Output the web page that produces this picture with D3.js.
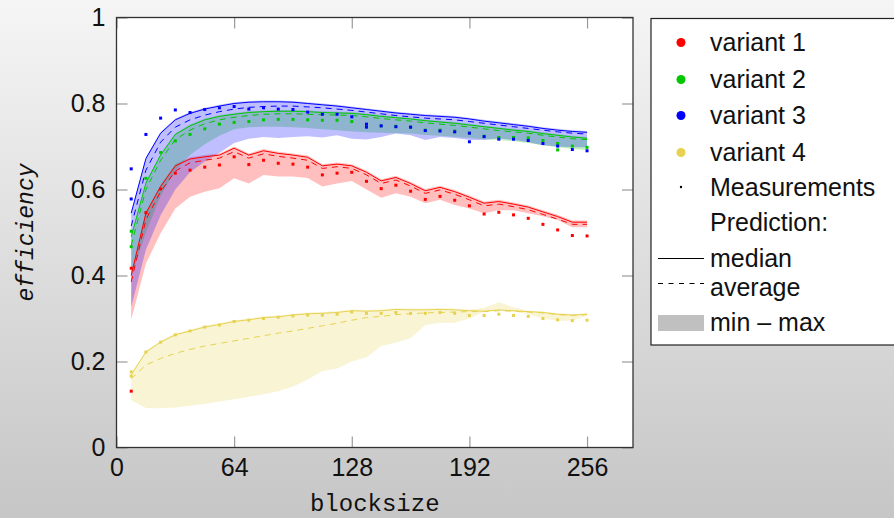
<!DOCTYPE html>
<html>
<head>
<meta charset="utf-8">
<script src="https://cdn.jsdelivr.net/npm/d3@7"></script>
<style>
  html, body { margin: 0; padding: 0; }
  body { width: 894px; height: 518px; overflow: hidden; }
  svg { display: block; font-family: "Liberation Sans", Arial, sans-serif; }
</style>
</head>
<body>
<svg id="chart"></svg>
<script>
// ---- data ------------------------------------------------------------
var blocksize = [8,16,24,32,40,48,56,64,72,80,88,96,104,112,120,128,
                 136,144,152,160,168,176,184,192,200,208,216,224,232,240,248,256];

var v1_median = [0.400,0.545,0.607,0.655,0.671,0.676,0.680,0.696,0.680,0.690,0.684,0.680,0.675,0.655,0.659,0.655,
                 0.640,0.620,0.628,0.614,0.597,0.605,0.595,0.582,0.568,0.572,0.566,0.559,0.548,0.537,0.524,0.524];
var v1_average = [0.385,0.530,0.595,0.643,0.662,0.668,0.673,0.688,0.673,0.683,0.677,0.673,0.668,0.649,0.653,0.649,
                  0.634,0.614,0.622,0.608,0.591,0.599,0.589,0.576,0.562,0.566,0.560,0.553,0.542,0.531,0.519,0.519];
var v1_min = [0.297,0.428,0.498,0.556,0.583,0.595,0.603,0.626,0.614,0.634,0.630,0.630,0.627,0.607,0.614,0.620,
              0.600,0.581,0.591,0.583,0.568,0.576,0.564,0.556,0.545,0.552,0.552,0.545,0.538,0.529,0.512,0.512];
var v1_max = [0.404,0.549,0.611,0.659,0.675,0.680,0.684,0.700,0.684,0.694,0.688,0.684,0.679,0.659,0.663,0.659,
              0.644,0.624,0.632,0.618,0.601,0.609,0.599,0.586,0.572,0.576,0.570,0.563,0.552,0.541,0.528,0.528];
var v1_meas = [0.417,0.546,0.601,0.638,0.645,0.652,0.657,0.676,0.658,0.668,0.661,0.659,0.652,0.634,0.638,0.640,
               0.619,0.602,0.610,0.596,0.577,0.584,0.575,0.562,0.543,0.547,0.541,0.533,0.519,0.506,0.493,0.492];

var v2_median = [0.490,0.615,0.680,0.728,0.748,0.762,0.770,0.775,0.779,0.781,0.782,0.782,0.781,0.779,0.778,0.777,
                 0.774,0.770,0.767,0.764,0.760,0.757,0.754,0.750,0.746,0.742,0.738,0.735,0.730,0.726,0.722,0.719];
var v2_average = [0.470,0.600,0.668,0.716,0.738,0.753,0.762,0.768,0.772,0.775,0.776,0.776,0.775,0.774,0.773,0.772,
                  0.769,0.765,0.762,0.759,0.755,0.752,0.749,0.745,0.741,0.737,0.734,0.731,0.726,0.722,0.718,0.716];
var v2_min = [0.397,0.500,0.585,0.645,0.680,0.705,0.725,0.740,0.745,0.746,0.746,0.745,0.743,0.740,0.738,0.735,
              0.733,0.732,0.731,0.730,0.727,0.725,0.722,0.720,0.717,0.715,0.712,0.708,0.703,0.698,0.694,0.692];
var v2_max = [0.493,0.618,0.683,0.731,0.751,0.765,0.773,0.778,0.782,0.784,0.785,0.785,0.784,0.782,0.781,0.780,
              0.777,0.773,0.770,0.767,0.763,0.760,0.757,0.753,0.749,0.745,0.741,0.738,0.733,0.729,0.725,0.722];
var v2_meas = [0.503,0.626,0.686,0.713,0.728,0.741,0.752,0.756,0.758,0.762,0.763,0.763,0.762,0.761,0.761,0.758,
               0.748,0.748,0.747,0.745,0.738,0.738,0.736,0.731,0.724,0.721,0.721,0.720,0.714,0.707,0.701,0.698];

var v3_median = [0.545,0.672,0.731,0.762,0.777,0.787,0.794,0.800,0.803,0.804,0.804,0.803,0.800,0.797,0.794,0.790,
                 0.786,0.782,0.778,0.775,0.772,0.770,0.768,0.764,0.759,0.755,0.751,0.747,0.742,0.738,0.735,0.733];
var v3_average = [0.515,0.645,0.710,0.745,0.762,0.773,0.781,0.787,0.791,0.793,0.794,0.794,0.792,0.790,0.787,0.784,
                  0.780,0.776,0.772,0.769,0.766,0.764,0.762,0.758,0.754,0.750,0.746,0.742,0.738,0.734,0.731,0.729];
var v3_min = [0.327,0.460,0.540,0.600,0.640,0.665,0.685,0.708,0.718,0.722,0.720,0.722,0.724,0.721,0.726,0.718,
              0.716,0.722,0.730,0.726,0.715,0.722,0.720,0.715,0.715,0.719,0.715,0.710,0.703,0.700,0.698,0.698];
var v3_max = [0.548,0.675,0.734,0.765,0.780,0.790,0.797,0.803,0.806,0.807,0.807,0.806,0.803,0.800,0.797,0.793,
              0.789,0.785,0.781,0.778,0.775,0.773,0.771,0.767,0.762,0.758,0.754,0.750,0.745,0.741,0.738,0.736];
var v3_meas = [0.648,0.728,0.766,0.785,0.779,0.786,0.790,0.793,0.787,0.790,0.787,0.786,0.780,0.775,0.775,0.769,
               0.752,0.748,0.746,0.745,0.737,0.736,0.734,0.731,0.723,0.717,0.717,0.714,0.707,0.701,0.693,0.690];

var v4_median = [0.169,0.222,0.245,0.262,0.271,0.280,0.286,0.293,0.297,0.302,0.304,0.308,0.311,0.312,0.314,0.318,
                 0.317,0.318,0.321,0.320,0.320,0.321,0.320,0.318,0.317,0.320,0.318,0.316,0.314,0.310,0.308,0.310];
var v4_average = [0.160,0.192,0.207,0.219,0.228,0.236,0.242,0.248,0.254,0.260,0.266,0.271,0.277,0.283,0.289,0.296,
                  0.302,0.305,0.309,0.311,0.313,0.314,0.315,0.316,0.316,0.318,0.317,0.315,0.313,0.309,0.307,0.309];
var v4_min = [0.110,0.092,0.091,0.093,0.097,0.101,0.107,0.112,0.118,0.124,0.131,0.142,0.158,0.178,0.184,0.200,
              0.210,0.236,0.244,0.254,0.285,0.290,0.290,0.300,0.316,0.318,0.316,0.310,0.300,0.295,0.295,0.307];
var v4_max = [0.172,0.225,0.248,0.265,0.274,0.283,0.289,0.296,0.300,0.305,0.307,0.311,0.314,0.315,0.317,0.321,
              0.320,0.321,0.324,0.323,0.323,0.324,0.323,0.321,0.325,0.338,0.326,0.318,0.316,0.312,0.310,0.312];
var v4_meas = [0.176,0.222,0.245,0.262,0.271,0.280,0.285,0.293,0.296,0.300,0.303,0.306,0.308,0.308,0.310,0.315,
               0.312,0.312,0.314,0.312,0.312,0.314,0.312,0.307,0.307,0.310,0.307,0.305,0.300,0.297,0.295,0.296];

// second measurements that stand apart from the main ones: [blocksize, efficiency]
var v1_extra = [[8,0.131]];
var v2_extra = [[8,0.467],[240,0.692]];
var v3_extra = [[8,0.578],[136,0.745],[192,0.711]];
var v4_extra = [[8,0.166]];

var names = ['variant 1','variant 2','variant 3','variant 4'];
var colors = ['#ff0000','#00c800','#0000ff','#e6d250'];

var xTicks = [0,64,128,192,256];
var yTicks = [0,0.2,0.4,0.6,0.8,1];

// ---- layout ----------------------------------------------------------
var W = 894, H = 518;
var plot = { left: 116.5, right: 633, top: 17.5, bottom: 447.5 };

var svg = d3.select('#chart').attr('width', W).attr('height', H);

var defs = svg.append('defs');
var grad = defs.append('linearGradient').attr('id', 'bg').attr('x1', 0).attr('y1', 0).attr('x2', 0).attr('y2', 1);
grad.append('stop').attr('offset', '0%').attr('stop-color', '#f5f5f5');
grad.append('stop').attr('offset', '100%').attr('stop-color', '#c6c6c6');
svg.append('rect').attr('width', W).attr('height', H).attr('fill', 'url(#bg)');

var x = d3.scaleLinear().domain([0, 281]).range([plot.left, plot.right]);
var y = d3.scaleLinear().domain([0, 1]).range([plot.bottom, plot.top]);

svg.append('rect')
    .attr('x', plot.left).attr('y', plot.top)
    .attr('width', plot.right - plot.left).attr('height', plot.bottom - plot.top)
    .attr('fill', '#fff');

defs.append('clipPath').attr('id', 'clip').append('rect')
    .attr('x', plot.left).attr('y', plot.top)
    .attr('width', plot.right - plot.left).attr('height', plot.bottom - plot.top);

var g = svg.append('g').attr('clip-path', 'url(#clip)');

var series = [
    { median: v1_median, average: v1_average, min: v1_min, max: v1_max, meas: v1_meas, extra: v1_extra },
    { median: v2_median, average: v2_average, min: v2_min, max: v2_max, meas: v2_meas, extra: v2_extra },
    { median: v3_median, average: v3_average, min: v3_min, max: v3_max, meas: v3_meas, extra: v3_extra },
    { median: v4_median, average: v4_average, min: v4_min, max: v4_max, meas: v4_meas, extra: v4_extra }
];

var area = d3.area()
    .x(function(d, i){ return x(blocksize[i]); })
    .y0(function(d){ return y(d[0]); })
    .y1(function(d){ return y(d[1]); });

var line = d3.line()
    .x(function(d, i){ return x(blocksize[i]); })
    .y(function(d){ return y(d); });

// bands (min - max)
series.forEach(function(s, k){
    var band = s.min.map(function(v, i){ return [v, s.max[i]]; });
    g.append('path').attr('d', area(band))
        .attr('fill', colors[k]).attr('fill-opacity', 0.25).attr('stroke', 'none');
});

// median and average
series.forEach(function(s, k){
    g.append('path').attr('d', line(s.median))
        .attr('fill', 'none').attr('stroke', colors[k]).attr('stroke-width', 1);
    g.append('path').attr('d', line(s.average))
        .attr('fill', 'none').attr('stroke', colors[k]).attr('stroke-width', 1)
        .attr('stroke-dasharray', '6,5');
});

// measurements
series.forEach(function(s, k){
    var pts = s.meas.map(function(v, i){ return [blocksize[i], v]; }).concat(s.extra);
    g.selectAll(null).data(pts).enter().append('rect')
        .attr('x', function(d){ return x(d[0]) - 1.5; })
        .attr('y', function(d){ return y(d[1]) - 1.5; })
        .attr('width', 3).attr('height', 3)
        .attr('fill', colors[k]);
});

// ---- axes ------------------------------------------------------------
function styleAxis(sel){
    sel.select('.domain').remove();
    sel.selectAll('.tick line').attr('stroke', '#9a9a9a').attr('stroke-width', 1.2);
    sel.selectAll('.tick text').attr('fill', '#111').style('font-size', '25px');
}

svg.append('g').attr('transform', 'translate(0,' + plot.bottom + ')')
    .call(d3.axisBottom(x).tickValues(xTicks).tickSize(-11).tickPadding(11).tickFormat(d3.format('d')))
    .call(styleAxis);
svg.append('g').attr('transform', 'translate(0,' + plot.top + ')')
    .call(d3.axisTop(x).tickValues(xTicks).tickSize(-11).tickFormat(''))
    .call(styleAxis);
svg.append('g').attr('transform', 'translate(' + plot.left + ',0)')
    .call(d3.axisLeft(y).tickValues(yTicks).tickSize(-11).tickPadding(11).tickFormat(function(d){ return d3.format('')(+d.toFixed(1)); }))
    .call(styleAxis);
svg.append('g').attr('transform', 'translate(' + plot.right + ',0)')
    .call(d3.axisRight(y).tickValues(yTicks).tickSize(-11).tickFormat(''))
    .call(styleAxis);

svg.append('rect')
    .attr('x', plot.left).attr('y', plot.top)
    .attr('width', plot.right - plot.left).attr('height', plot.bottom - plot.top)
    .attr('fill', 'none').attr('stroke', '#333').attr('stroke-width', 1.3);

svg.append('text')
    .attr('x', (plot.left + plot.right) / 2).attr('y', 511)
    .attr('text-anchor', 'middle')
    .style('font-family', '"Liberation Mono", "DejaVu Sans Mono", monospace')
    .style('font-size', '24px').attr('fill', '#111')
    .text('blocksize');

svg.append('text')
    .attr('transform', 'translate(33,' + (plot.top + plot.bottom) / 2 + ') rotate(-90)')
    .attr('text-anchor', 'middle')
    .style('font-family', '"Liberation Mono", "DejaVu Sans Mono", monospace')
    .style('font-style', 'italic')
    .style('font-size', '23px').attr('fill', '#111')
    .text('efficiency');

// ---- legend ----------------------------------------------------------
var lg = svg.append('g');
lg.append('rect').attr('x', 651).attr('y', 18.5).attr('width', 260).attr('height', 326.5)
    .attr('fill', '#fff').attr('stroke', '#222').attr('stroke-width', 1.2);

var rowBase = [51, 88, 124, 161, 196, 231, 267, 296, 331];
var textX = 710;

names.forEach(function(n, k){
    lg.append('circle').attr('cx', 681).attr('cy', rowBase[k] - 8.5).attr('r', 4.5).attr('fill', colors[k]);
    lg.append('text').attr('x', textX).attr('y', rowBase[k]).text(n);
});
lg.append('circle').attr('cx', 681).attr('cy', 187).attr('r', 1.2).attr('fill', '#000');
lg.append('text').attr('x', textX).attr('y', rowBase[4]).text('Measurements');
lg.append('text').attr('x', textX).attr('y', rowBase[5]).text('Prediction:');
lg.append('line').attr('x1', 658).attr('x2', 704).attr('y1', 258.5).attr('y2', 258.5)
    .attr('stroke', '#000').attr('stroke-width', 1);
lg.append('text').attr('x', textX).attr('y', rowBase[6]).text('median');
lg.append('line').attr('x1', 658).attr('x2', 704).attr('y1', 283.5).attr('y2', 283.5)
    .attr('stroke', '#000').attr('stroke-width', 1).attr('stroke-dasharray', '5,5.5');
lg.append('text').attr('x', textX).attr('y', rowBase[7]).text('average');
lg.append('rect').attr('x', 658).attr('y', 315).attr('width', 46).attr('height', 16).attr('fill', '#c0c0c0');
lg.append('text').attr('x', textX).attr('y', rowBase[8]).text('min \u2013 max');

lg.selectAll('text').style('font-size', '25px').attr('fill', '#111');
</script>
</body>
</html>
